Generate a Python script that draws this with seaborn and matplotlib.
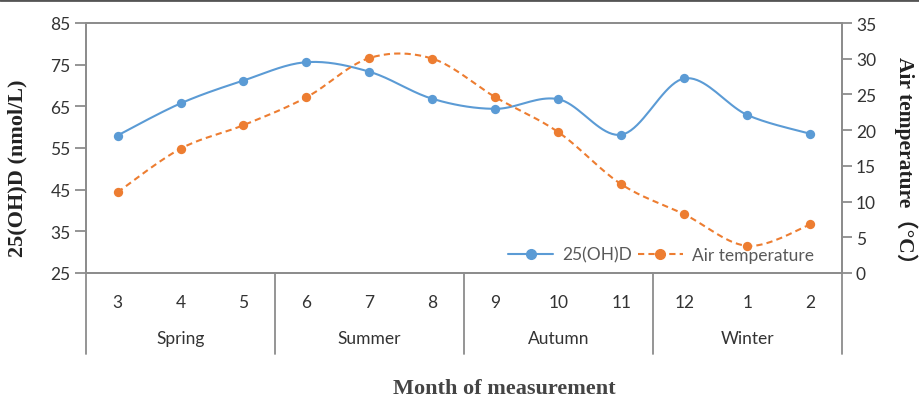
import numpy as np
import pandas as pd
import matplotlib
matplotlib.use("Agg")
import matplotlib.pyplot as plt
import matplotlib.transforms as mtransforms
from matplotlib.lines import Line2D
import seaborn as sns

months = ["3", "4", "5", "6", "7", "8", "9", "10", "11", "12", "1", "2"]
seasons = ["Spring", "Summer", "Autumn", "Winter"]
vitd = [58.0, 65.7, 71.2, 75.6, 73.3, 66.8, 64.4, 66.7, 58.2, 71.7, 62.9, 58.4]
temp = [11.3, 17.4, 20.7, 24.6, 30.1, 30.0, 24.6, 19.7, 12.4, 8.2, 3.8, 6.8]

sns.set_style("white")
plt.rcParams['font.family'] = ['Lato', 'DejaVu Sans']

BLUE = "#5B9BD5"
ORANGE = "#ED7D31"
GRAY = "#8C8C8C"
TXT = "#333333"


def smooth(y, n=20):
    # Catmull-Rom style smoothing (like Excel's smoothed line) for drawing only
    y = np.asarray(y, float)
    x = np.arange(len(y), dtype=float)
    P = np.column_stack([x, y])
    P = np.vstack([P[0], P, P[-1]])
    out = []
    for i in range(1, len(P) - 2):
        p0, p1, p2, p3 = P[i - 1], P[i], P[i + 1], P[i + 2]
        c1 = p1 + (p2 - p0) / 6
        c2 = p2 - (p3 - p1) / 6
        t = np.linspace(0, 1, n, endpoint=(i == len(P) - 3))[:, None]
        seg = ((1 - t) ** 3) * p1 + 3 * ((1 - t) ** 2) * t * c1 + 3 * (1 - t) * t ** 2 * c2 + t ** 3 * p2
        out.append(seg)
    s = np.vstack(out)
    return s[:, 0], s[:, 1]


fig = plt.figure(figsize=(9.19, 4.02), dpi=100)
ax = fig.add_axes([86 / 919, 1 - 274 / 402, 756 / 919, 250 / 402])
ax2 = ax.twinx()

pos = np.arange(len(months))
df = pd.DataFrame({"pos": pos, "vitd": vitd, "temp": temp})

sx, sy = smooth(vitd)
sns.lineplot(x=sx, y=sy, ax=ax, color=BLUE, lw=1.5, sort=False, estimator=None)
sns.scatterplot(data=df, x="pos", y="vitd", ax=ax, color=BLUE, s=45, edgecolor=BLUE, linewidth=0, zorder=3)

tx, ty = smooth(temp)
sns.lineplot(x=tx, y=ty, ax=ax2, color=ORANGE, lw=1.5, sort=False, estimator=None)
ax2.lines[-1].set_dashes((3, 2))
sns.scatterplot(data=df, x="pos", y="temp", ax=ax2, color=ORANGE, s=45, edgecolor=ORANGE, linewidth=0, zorder=3)

ax.set_xlim(-0.5, len(months) - 0.5)
ax.set_ylim(25, 85)
ax2.set_ylim(0, 35)
ax.set_yticks(np.arange(25, 86, 10))
ax2.set_yticks(np.arange(0, 36, 5))

for a in (ax, ax2):
    for sp in a.spines.values():
        sp.set_color(GRAY)
        sp.set_linewidth(1.3)
    a.set_xlabel("")
    a.set_ylabel("")

ax.tick_params(axis='y', which='both', left=True, length=8, width=1.3, color=GRAY,
               labelsize=12.5, labelcolor=TXT, pad=3)
ax2.tick_params(axis='y', which='both', right=True, length=7, width=1.3, color=GRAY,
                labelsize=12.5, labelcolor=TXT, pad=3)
ax.set_xticks(pos)
ax.set_xticklabels(months)
ax.tick_params(axis='x', length=0, labelsize=12.5, labelcolor=TXT, pad=15)

trans = mtransforms.blended_transform_factory(ax.transData, ax.transAxes)
sep_bottom = -(355 - 274) / 250
for b in [-0.5, 2.5, 5.5, 8.5, 11.5]:
    ax.plot([b, b], [0, sep_bottom], transform=trans, color=GRAY, lw=1.3, clip_on=False)
for i, s in enumerate(seasons):
    ax.text(3 * i + 1, -(339 - 274) / 250, s, transform=trans, ha='center', va='center',
            fontsize=12.5, color=TXT)

fig.text(17 / 919, 1 - 168 / 402, "25(OH)D (nmol/L)", rotation=90, ha='center', va='center',
         fontsize=16, fontweight='bold', family=['Liberation Serif', 'Noto Sans CJK SC'], color='#222222')
fig.text(906 / 919, 1 - 166 / 402, "Air temperature（°C）", rotation=270, ha='center', va='center',
         fontsize=15.5, fontweight='bold', family=['Liberation Serif', 'Noto Sans CJK SC'], color='#222222')
fig.text(504 / 919, 1 - 389 / 402, "Month of measurement", ha='center', va='center',
         fontsize=16, fontweight='bold', family=['Liberation Serif'], color='#444444')

handles = [
    Line2D([], [], color=BLUE, lw=1.5, marker='o', markersize=7, markevery=[1], label="25(OH)D"),
    Line2D([], [], color=ORANGE, lw=1.5, dashes=(3, 2), marker='o', markersize=7, label="Air temperature"),
]
leg = ax2.legend(handles=handles, loc='lower right', bbox_to_anchor=(1 - 18 / 756, 0.0),
                 ncol=2, frameon=False, fontsize=12.5, handlelength=2.6, handletextpad=0.5,
                 columnspacing=0.35, borderaxespad=0.2, labelcolor='#595959')

fig.add_artist(Line2D([0, 1], [1 - 1 / 402, 1 - 1 / 402], transform=fig.transFigure, color='#555555', lw=2))

fig.savefig("out.png", dpi=100)
